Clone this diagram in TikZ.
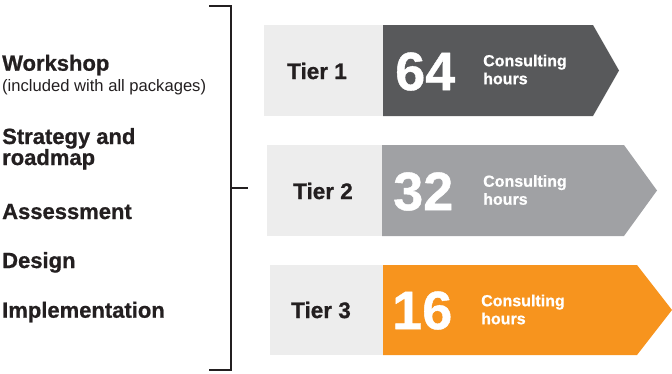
\documentclass[tikz,border=0pt]{standalone}
\usepackage{fontspec}
\setmainfont{Liberation Sans}[BoldFeatures={FakeBold=0.8}]
\usetikzlibrary{positioning}
\definecolor{tierlight}{HTML}{EDEDED}
\definecolor{tierdark}{HTML}{58595B}
\definecolor{tiermid}{HTML}{A0A1A4}
\definecolor{tierorange}{HTML}{F7941E}
\definecolor{inktext}{HTML}{231F20}
\tikzset{
	item/.style={anchor=base west,inner sep=0pt,text=inktext,font=\fontsize{22}{26}\selectfont\bfseries},
	note/.style={anchor=base west,inner sep=0pt,text=inktext,font=\fontsize{16.6}{20}\selectfont},
	tierlabel/.style={inner sep=0pt,text=inktext,font=\fontsize{22.5}{26}\selectfont\bfseries},
	hours/.style={anchor=west,inner sep=0pt,text=white,font=\fontsize{54}{54}\selectfont\bfseries},
	consult/.style={anchor=west,inner sep=0pt,align=left,text=white,font=\fontsize{16}{18}\selectfont\bfseries},
}

\begin{document}
\begin{tikzpicture}[x=1pt,y=-1pt]
			\useasboundingbox (0,0) rectangle (672,373);

			% list of services on the left
			\node[item] (workshop) at (2,70.7) {Workshop};
			\node[note] (included) at (2,91.7) {(included with all packages)};
			\node[item] (strategy) at (2,144) {Strategy and};
			\node[item] (roadmap) at (2,165) {roadmap};
			\node[item] (assess) at (2,219) {Assessment};
			\node[item] (design) at (2,268) {Design};
			\node[item] (implement) at (2,317.7) {Implementation};

			% bracket joining the list to the tiers
			\coordinate (brtop) at (209,6);
			\coordinate (brbot) at (209,370);
			\coordinate (brmid) at (231,188);
			\coordinate (brtick) at (248,188);
			\draw[line width=1.8pt,color=inktext] (brtop) -- (231,6) -- (231,370) -- (brbot);
			\draw[line width=1.6pt,color=inktext] (brmid) -- (brtick);

			% Tier 1
			\fill [fill=tierlight] (264,25) rectangle (383,116);
			\fill [fill=tierdark] (383,25) -- (593,25) -- (619,70.5) -- (593,116) -- (383,116) -- cycle;
			\node[tierlabel] (tier1) at (317,71) {Tier 1};
			\node[hours] (num1) at (395,71.5) {64};
			\node[consult] (cons1) at (483,69.5) {Consulting\\hours};

			% Tier 2
			\fill [fill=tierlight] (267,145) rectangle (382,236);
			\fill [fill=tiermid] (382,145) -- (624,145) -- (657,190.5) -- (624,236) -- (382,236) -- cycle;
			\node[tierlabel] (tier2) at (323,191) {Tier 2};
			\node[hours] (num2) at (393,191.5) {32};
			\node[consult] (cons2) at (483,190) {Consulting\\hours};

			% Tier 3
			\fill [fill=tierlight] (270,265) rectangle (383,355);
			\fill [fill=tierorange] (383,265) -- (637,265) -- (672,310) -- (637,355) -- (383,355) -- cycle;
			\node[tierlabel] (tier3) at (321,310) {Tier 3};
			\node[hours] (num3) at (392,310.5) {16};
			\node[consult] (cons3) at (481,309.5) {Consulting\\hours};

			\end{tikzpicture}
\end{document}
